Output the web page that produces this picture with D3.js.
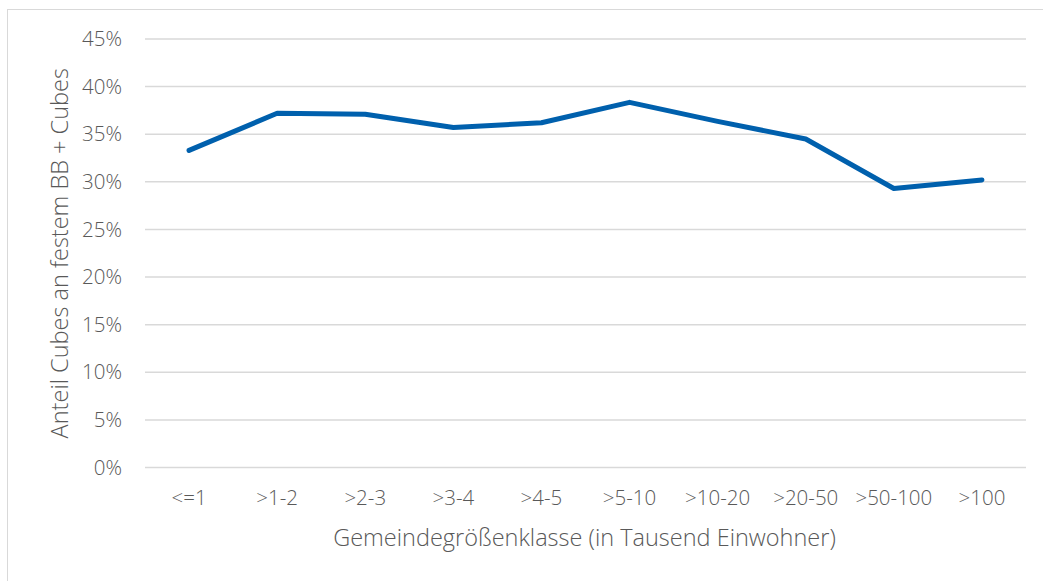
<!DOCTYPE html>
<html>
<head>
<meta charset="utf-8">
<script src="https://cdn.jsdelivr.net/npm/d3@7"></script>
<style>
  html, body { margin: 0; padding: 0; background: #fff; }
  svg text { font-family: "Open Sans", "Noto Sans", sans-serif; font-weight: 300; fill: #595959; }
</style>
</head>
<body>
<div id="chart"></div>
<script>
// categories and values (share in %)
const categories = ["<=1", ">1-2", ">2-3", ">3-4", ">4-5", ">5-10", ">10-20", ">20-50", ">50-100", ">100"];
const shares = [33.3, 37.2, 37.1, 35.7, 36.2, 38.35, 36.35, 34.5, 29.3, 30.2];
const yTicks = [0, 5, 10, 15, 20, 25, 30, 35, 40, 45];
const xTitle = "Gemeindegrößenklasse (in Tausend Einwohner)";
const yTitle = "Anteil Cubes an festem BB + Cubes";

const width = 1043, height = 581;
const margin = { top: 39, right: 17, bottom: 113.5, left: 145 };

const svg = d3.select("#chart").append("svg")
    .attr("width", width)
    .attr("height", height);

// chart area border
svg.append("rect")
    .attr("x", 7.5).attr("y", 9.5)
    .attr("width", width + 10).attr("height", height + 10)
    .attr("fill", "none")
    .attr("stroke", "#d9d9d9")
    .attr("stroke-width", 1);

const x = d3.scaleBand()
    .domain(categories)
    .range([margin.left, width - margin.right]);

const y = d3.scaleLinear()
    .domain([0, 45])
    .range([height - margin.bottom, margin.top]);

// gridlines
svg.append("g")
    .selectAll("line")
    .data(yTicks)
    .join("line")
    .attr("x1", margin.left)
    .attr("x2", width - margin.right)
    .attr("y1", d => y(d))
    .attr("y2", d => y(d))
    .attr("stroke", "#d9d9d9")
    .attr("stroke-width", 1.5);

// y tick labels
svg.append("g")
    .selectAll("text")
    .data(yTicks)
    .join("text")
    .attr("x", margin.left - 23)
    .attr("y", d => y(d))
    .attr("dy", "0.35em")
    .attr("text-anchor", "end")
    .style("font-size", "20.5px")
    .text(d => d + "%");

// x tick labels
svg.append("g")
    .selectAll("text")
    .data(categories)
    .join("text")
    .attr("x", d => x(d) + x.bandwidth() / 2)
    .attr("y", height - margin.bottom + 37)
    .attr("text-anchor", "middle")
    .style("font-size", "20.5px")
    .text(d => d);

// axis titles
svg.append("text")
    .attr("x", margin.left + (width - margin.right - margin.left) / 2 - 1)
    .attr("y", 546)
    .attr("text-anchor", "middle")
    .style("font-size", "23.5px")
    .text(xTitle);

svg.append("text")
    .attr("transform", "translate(68," + (y(22.5)) + ") rotate(-90)")
    .attr("text-anchor", "middle")
    .style("font-size", "23.5px")
    .text(yTitle);

// line
const line = d3.line()
    .x((d, i) => x(categories[i]) + x.bandwidth() / 2)
    .y(d => y(d));

svg.append("path")
    .datum(shares)
    .attr("d", line)
    .attr("fill", "none")
    .attr("stroke", "#0060ad")
    .attr("stroke-width", 5)
    .attr("stroke-linecap", "round")
    .attr("stroke-linejoin", "round");
</script>
</body>
</html>
